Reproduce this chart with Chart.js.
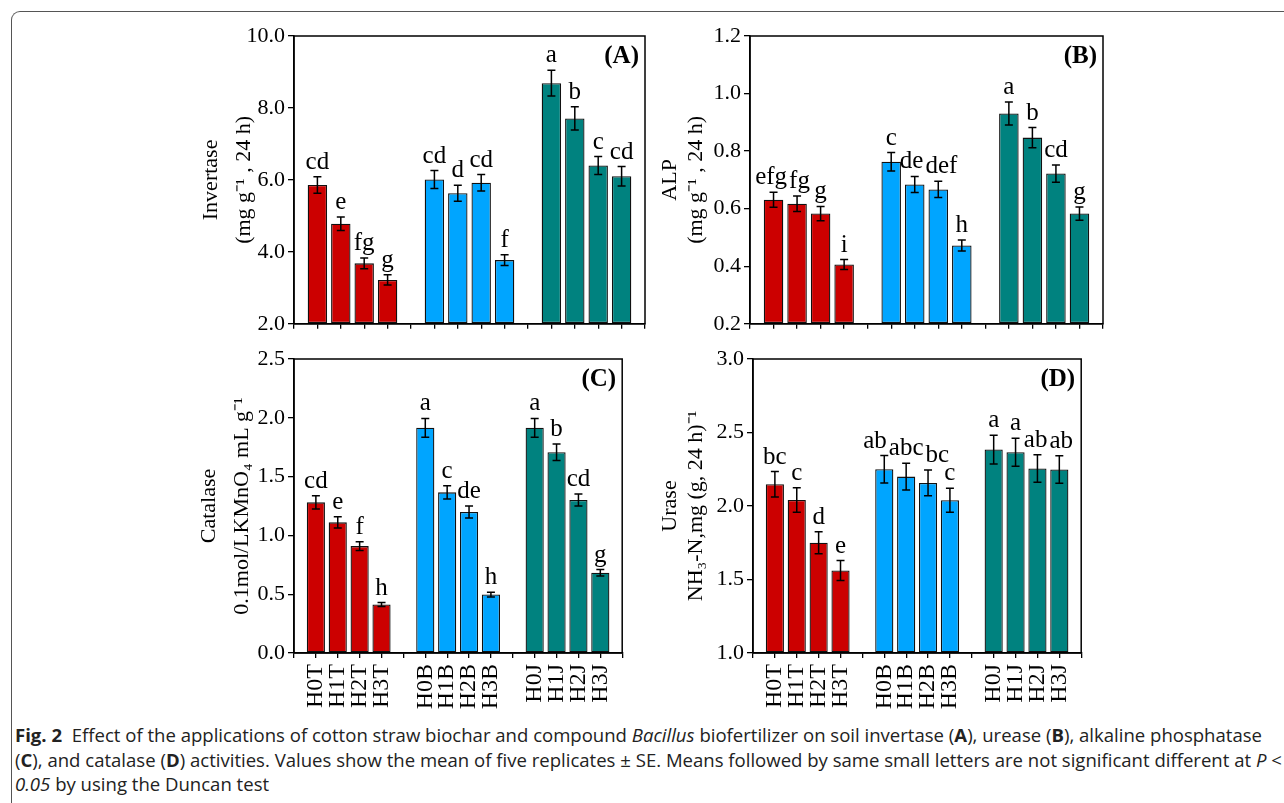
<!DOCTYPE html>
<html>
<head>
<meta charset="utf-8">
<script src="https://cdn.jsdelivr.net/npm/chart.js@4.4.1/dist/chart.umd.min.js"></script>
<style>
  html, body { margin: 0; padding: 0; background: #fff; }
  #page { position: relative; width: 1284px; height: 803px; overflow: hidden; background: #fff; }
  #frame {
    position: absolute; left: 11px; top: 11px; width: 1400px; height: 900px;
    border-top: 1px solid #555; border-left: 1px solid #555; border-top-left-radius: 9px;
  }
  canvas { position: absolute; }
  #caption {
    position: absolute; left: 15px; top: 723px;
    font-family: "Open Sans", "Noto Sans", sans-serif; font-size: 18px; color: #222;
  }
  #caption div { white-space: nowrap; line-height: 24.5px; transform-origin: 0 50%; width: max-content; }
</style>
</head>
<body>
<div id="page">
  <div id="frame"></div>
  <canvas id="chartA" width="462" height="324" style="left:195px; top:16px;"></canvas>
  <canvas id="chartB" width="458" height="324" style="left:657px; top:16px;"></canvas>
  <canvas id="chartC" width="464" height="382" style="left:193px; top:339px;"></canvas>
  <canvas id="chartD" width="459" height="382" style="left:657px; top:339px;"></canvas>
  <div id="caption">
    <div><b>Fig. 2</b>&nbsp; Effect of the applications of cotton straw biochar and compound <i>Bacillus</i> biofertilizer on soil invertase (<b>A</b>), urease (<b>B</b>), alkaline phosphatase</div>
    <div>(<b>C</b>), and catalase (<b>D</b>) activities. Values show the mean of five replicates &plusmn; SE. Means followed by same small letters are not significant different at <i>P</i> &lt;</div>
    <div><i>0.05</i> by using the Duncan test</div>
  </div>
</div>
<script>
// treatments, three groups of four
const categories = ['H0T', 'H1T', 'H2T', 'H3T', 'H0B', 'H1B', 'H2B', 'H3B', 'H0J', 'H1J', 'H2J', 'H3J'];
const groupColors = ['#cc0000', '#00a5ff', '#00827f'];

// (A) invertase
const invertase = [5.86, 4.78, 3.68, 3.22, 6.01, 5.63, 5.92, 3.77, 8.69, 7.71, 6.40, 6.10];
const invertaseSE = [0.23, 0.19, 0.15, 0.14, 0.25, 0.22, 0.23, 0.15, 0.36, 0.32, 0.25, 0.27];
const invertaseLetters = ['cd', 'e', 'fg', 'g', 'cd', 'd', 'cd', 'f', 'a', 'b', 'c', 'cd'];

// (B) alkaline phosphatase
const alp = [0.631, 0.617, 0.583, 0.406, 0.763, 0.684, 0.667, 0.472, 0.931, 0.847, 0.722, 0.583];
const alpSE = [0.026, 0.027, 0.025, 0.017, 0.032, 0.028, 0.028, 0.019, 0.040, 0.035, 0.030, 0.023];
const alpLetters = ['efg', 'fg', 'g', 'i', 'c', 'de', 'def', 'h', 'a', 'b', 'cd', 'g'];

// (C) catalase
const catalase = [1.281, 1.111, 0.909, 0.412, 1.915, 1.366, 1.199, 0.497, 1.915, 1.707, 1.301, 0.682];
const catalaseSE = [0.057, 0.048, 0.037, 0.017, 0.080, 0.057, 0.051, 0.020, 0.080, 0.071, 0.051, 0.028];
const catalaseLetters = ['cd', 'e', 'f', 'h', 'a', 'c', 'de', 'h', 'a', 'b', 'cd', 'g'];

// (D) urease
const urase = [2.148, 2.041, 1.750, 1.561, 2.250, 2.200, 2.157, 2.039, 2.384, 2.366, 2.255, 2.248];
const uraseSE = [0.086, 0.084, 0.075, 0.068, 0.093, 0.091, 0.088, 0.082, 0.098, 0.095, 0.093, 0.093];
const uraseLetters = ['bc', 'c', 'd', 'e', 'ab', 'abc', 'bc', 'c', 'a', 'a', 'ab', 'ab'];

Chart.defaults.font.family = "'Liberation Serif', 'Times New Roman', serif";
Chart.defaults.color = '#000';

// one empty slot between groups, axis runs 0..15
const xPos = categories.map((c, i) => i + Math.floor(i / 4) + 1);

function labelAt(v) {
  const i = xPos.indexOf(v);
  return i >= 0 ? categories[i] : '';
}

function makePanel(id, cfg) {
  const overlay = {
    id: 'overlay_' + id,
    afterDatasetsDraw(chart) {
      const ctx = chart.ctx;
      const xs = chart.scales.x, ys = chart.scales.y;
      const area = chart.chartArea;
      ctx.save();
      ctx.strokeStyle = '#000';
      ctx.fillStyle = '#000';
      // error bars
      ctx.lineWidth = 1.5;
      cfg.values.forEach((v, i) => {
        const x = xs.getPixelForValue(xPos[i]);
        const top = ys.getPixelForValue(v + cfg.se[i]);
        const bot = ys.getPixelForValue(v - cfg.se[i]);
        ctx.beginPath();
        ctx.moveTo(x, top); ctx.lineTo(x, bot);
        ctx.moveTo(x - 4, top); ctx.lineTo(x + 4, top);
        ctx.moveTo(x - 4, bot); ctx.lineTo(x + 4, bot);
        ctx.stroke();
      });
      // significance letters, nudged sideways where neighbours would touch
      ctx.font = "25px 'Liberation Serif', serif";
      ctx.textAlign = 'center';
      ctx.textBaseline = 'alphabetic';
      const boxes = cfg.values.map((v, i) => ({
        x: xs.getPixelForValue(xPos[i]),
        y: ys.getPixelForValue(v + cfg.se[i]) - 8,
        w: ctx.measureText(cfg.letters[i]).width
      }));
      for (let pass = 0; pass < 6; pass++) {
        for (let i = 0; i < boxes.length - 1; i++) {
          const a = boxes[i], b = boxes[i + 1];
          if (Math.abs(a.y - b.y) > 18) continue;
          const gap = (b.x - b.w / 2) - (a.x + a.w / 2);
          if (gap < 2) {
            const push = (2 - gap) / 2;
            a.x -= push; b.x += push;
          }
        }
      }
      boxes.forEach((b, i) => ctx.fillText(cfg.letters[i], b.x, b.y));
      // panel tag
      ctx.font = "bold 25px 'Liberation Serif', serif";
      ctx.textAlign = 'right';
      ctx.textBaseline = 'middle';
      ctx.fillText(cfg.tag, area.right - 6, area.top + 21);
      // frame box
      ctx.lineWidth = 1.5;
      ctx.strokeRect(area.left, area.top, area.right - area.left, area.bottom - area.top);
      ctx.restore();
    }
  };

  new Chart(document.getElementById(id), {
    type: 'bar',
    data: {
      datasets: [{
        data: cfg.values.map((v, i) => ({ x: xPos[i], y: v })),
        backgroundColor: categories.map((c, i) => groupColors[Math.floor(i / 4)]),
        borderColor: '#111',
        borderWidth: 1.3,
        borderSkipped: false,
        base: cfg.min,
        barPercentage: 0.83,
        categoryPercentage: 1
      }]
    },
    options: {
      responsive: false,
      animation: false,
      layout: { padding: { left: 0, right: 12, top: 20, bottom: 2 } },
      plugins: { legend: { display: false }, tooltip: { enabled: false } },
      scales: {
        x: {
          type: 'linear', min: 0, max: 15, offset: false,
          ticks: {
            stepSize: 1, autoSkip: false, display: cfg.showLabels,
            minRotation: 90, maxRotation: 90, padding: 6,
            font: { size: 24 }, callback: v => labelAt(v)
          },
          grid: { offset: false, drawOnChartArea: false, tickLength: 5, color: '#000', lineWidth: 1.3 },
          border: { color: '#000', width: 1.5 },
          afterFit: s => { s.height = cfg.xHeight; }
        },
        y: {
          min: cfg.min, max: cfg.max,
          ticks: { stepSize: cfg.step, padding: 3, font: { size: 22 }, callback: v => v.toFixed(1) },
          grid: { drawOnChartArea: false, tickLength: 6, color: '#000', lineWidth: 1.3 },
          border: { color: '#000', width: 1.5 },
          title: { display: true, text: cfg.title, font: { size: 22, lineHeight: cfg.titleLH }, padding: 0 },
          afterFit: s => { s.width = cfg.yWidth; }
        }
      }
    },
    plugins: [overlay]
  });
}

makePanel('chartA', {
  values: invertase, se: invertaseSE, letters: invertaseLetters, tag: '(A)',
  min: 2, max: 10, step: 2, title: ['Invertase', '(mg g\u207B\u00B9 , 24 h)'], titleLH: 1.5,
  yWidth: 99, xHeight: 8, showLabels: false
});
makePanel('chartB', {
  values: alp, se: alpSE, letters: alpLetters, tag: '(B)',
  min: 0.2, max: 1.2, step: 0.2, title: ['ALP', '(mg g\u207B\u00B9 , 24 h)'], titleLH: 1.18,
  yWidth: 93, xHeight: 8, showLabels: false
});
makePanel('chartC', {
  values: catalase, se: catalaseSE, letters: catalaseLetters, tag: '(C)',
  min: 0, max: 2.5, step: 0.5, title: ['Catalase', '0.1mol/LKMnO\u2084 mL g\u207B\u00B9'], titleLH: 1.5,
  yWidth: 101, xHeight: 66, showLabels: true
});
makePanel('chartD', {
  values: urase, se: uraseSE, letters: uraseLetters, tag: '(D)',
  min: 1, max: 3, step: 0.5, title: ['Urase', 'NH\u2083-N,mg (g, 24 h)\u207B\u00B9'], titleLH: 1.18,
  yWidth: 96, xHeight: 66, showLabels: true
});

// squeeze caption lines to the width of the printed caption
const capLines = document.querySelectorAll('#caption div');
const capScale = 1247 / capLines[0].getBoundingClientRect().width;
capLines.forEach(d => { d.style.transform = 'scaleX(' + capScale + ')'; });
</script>
</body>
</html>
